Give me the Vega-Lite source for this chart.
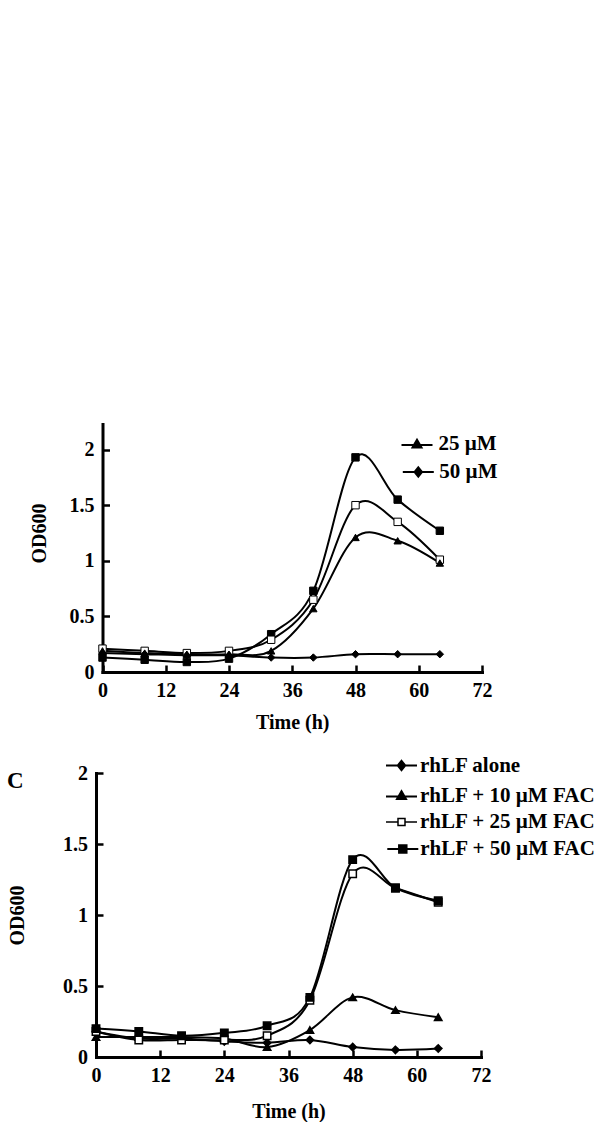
{
  "$schema": "https://vega.github.io/schema/vega-lite/v6.json",
  "autosize": {"type": "pad"},
  "padding": {"left": 7, "top": 424, "right": 0, "bottom": 0},
  "background": "white",
  "bounds": "flush",
  "spacing": 101,
  "config": {
    "view": {"stroke": null},
    "font": "Liberation Serif",
    "axis": {
      "domainColor": "black", "domainWidth": 3, "domainCap": "square",
      "tickColor": "black", "tickWidth": 2.5, "tickSize": -7,
      "labelFont": "Liberation Serif", "labelFontWeight": "bold", "labelFontSize": 20, "labelColor": "black",
      "labelPadding": 15.5, "labelFlush": false, "labelOverlap": false,
      "titleFont": "Liberation Serif", "titleFontWeight": "bold", "titleFontSize": 20, "titleColor": "black",
      "grid": false
    },
    "legend": {
      "title": null, "orient": "none", "padding": 0, "symbolSize": 100, "rowPadding": 7, "labelLimit": 400,
      "labelFont": "Liberation Serif", "labelFontWeight": "bold", "labelFontSize": 21, "labelColor": "black",
      "symbolStrokeWidth": 2, "symbolStrokeColor": "black", "symbolOpacity": 1
    }
  },
  "datasets": {
    "top": [
      {"series": "0 µM", "t": 0, "od": 0.13}, {"series": "0 µM", "t": 8, "od": 0.11}, {"series": "0 µM", "t": 16, "od": 0.09},
      {"series": "0 µM", "t": 24, "od": 0.12}, {"series": "0 µM", "t": 32, "od": 0.34}, {"series": "0 µM", "t": 40, "od": 0.73},
      {"series": "0 µM", "t": 48, "od": 1.93}, {"series": "0 µM", "t": 56, "od": 1.55}, {"series": "0 µM", "t": 64, "od": 1.27},
      {"series": "10 µM", "t": 0, "od": 0.21}, {"series": "10 µM", "t": 8, "od": 0.19}, {"series": "10 µM", "t": 16, "od": 0.17},
      {"series": "10 µM", "t": 24, "od": 0.19}, {"series": "10 µM", "t": 32, "od": 0.29}, {"series": "10 µM", "t": 40, "od": 0.65},
      {"series": "10 µM", "t": 48, "od": 1.5}, {"series": "10 µM", "t": 56, "od": 1.35}, {"series": "10 µM", "t": 64, "od": 1.01},
      {"series": "25 µM", "t": 0, "od": 0.19}, {"series": "25 µM", "t": 8, "od": 0.17}, {"series": "25 µM", "t": 16, "od": 0.16},
      {"series": "25 µM", "t": 24, "od": 0.16}, {"series": "25 µM", "t": 32, "od": 0.19}, {"series": "25 µM", "t": 40, "od": 0.57},
      {"series": "25 µM", "t": 48, "od": 1.21}, {"series": "25 µM", "t": 56, "od": 1.18}, {"series": "25 µM", "t": 64, "od": 0.98},
      {"series": "50 µM", "t": 0, "od": 0.17}, {"series": "50 µM", "t": 8, "od": 0.16}, {"series": "50 µM", "t": 16, "od": 0.15},
      {"series": "50 µM", "t": 24, "od": 0.15}, {"series": "50 µM", "t": 32, "od": 0.13}, {"series": "50 µM", "t": 40, "od": 0.13},
      {"series": "50 µM", "t": 48, "od": 0.16}, {"series": "50 µM", "t": 56, "od": 0.16}, {"series": "50 µM", "t": 64, "od": 0.16}
    ],
    "bottom": [
      {"series": "rhLF alone", "t": 0, "od": 0.18}, {"series": "rhLF alone", "t": 8, "od": 0.13}, {"series": "rhLF alone", "t": 16, "od": 0.13},
      {"series": "rhLF alone", "t": 24, "od": 0.11}, {"series": "rhLF alone", "t": 32, "od": 0.1}, {"series": "rhLF alone", "t": 40, "od": 0.12},
      {"series": "rhLF alone", "t": 48, "od": 0.07}, {"series": "rhLF alone", "t": 56, "od": 0.05}, {"series": "rhLF alone", "t": 64, "od": 0.06},
      {"series": "rhLF + 10 µM FAC", "t": 0, "od": 0.14}, {"series": "rhLF + 10 µM FAC", "t": 8, "od": 0.14}, {"series": "rhLF + 10 µM FAC", "t": 16, "od": 0.14},
      {"series": "rhLF + 10 µM FAC", "t": 24, "od": 0.13}, {"series": "rhLF + 10 µM FAC", "t": 32, "od": 0.07}, {"series": "rhLF + 10 µM FAC", "t": 40, "od": 0.19},
      {"series": "rhLF + 10 µM FAC", "t": 48, "od": 0.42}, {"series": "rhLF + 10 µM FAC", "t": 56, "od": 0.33}, {"series": "rhLF + 10 µM FAC", "t": 64, "od": 0.28},
      {"series": "rhLF + 25 µM FAC", "t": 0, "od": 0.18}, {"series": "rhLF + 25 µM FAC", "t": 8, "od": 0.12}, {"series": "rhLF + 25 µM FAC", "t": 16, "od": 0.12},
      {"series": "rhLF + 25 µM FAC", "t": 24, "od": 0.12}, {"series": "rhLF + 25 µM FAC", "t": 32, "od": 0.15}, {"series": "rhLF + 25 µM FAC", "t": 40, "od": 0.4},
      {"series": "rhLF + 25 µM FAC", "t": 48, "od": 1.29}, {"series": "rhLF + 25 µM FAC", "t": 56, "od": 1.19}, {"series": "rhLF + 25 µM FAC", "t": 64, "od": 1.09},
      {"series": "rhLF + 50 µM FAC", "t": 0, "od": 0.2}, {"series": "rhLF + 50 µM FAC", "t": 8, "od": 0.18}, {"series": "rhLF + 50 µM FAC", "t": 16, "od": 0.15},
      {"series": "rhLF + 50 µM FAC", "t": 24, "od": 0.17}, {"series": "rhLF + 50 µM FAC", "t": 32, "od": 0.22}, {"series": "rhLF + 50 µM FAC", "t": 40, "od": 0.42},
      {"series": "rhLF + 50 µM FAC", "t": 48, "od": 1.39}, {"series": "rhLF + 50 µM FAC", "t": 56, "od": 1.19}, {"series": "rhLF + 50 µM FAC", "t": 64, "od": 1.1}
    ]
  },
  "vconcat": [
    {
      "width": 386,
      "height": 248,
      "data": {"name": "top"},
      "encoding": {
        "x": {"field": "t", "type": "quantitative",
              "scale": {"domain": [0, 72], "range": [6.5, 386], "nice": false, "zero": false},
              "axis": {"values": [0, 12, 24, 36, 48, 60, 72], "title": "Time (h)", "titlePadding": 12}},
        "y": {"field": "od", "type": "quantitative",
              "scale": {"domain": [0, 2.23], "nice": false},
              "axis": {"values": [0, 0.5, 1, 1.5, 2], "labelExpr": "'' + datum.value", "title": "OD600", "titlePadding": 20, "titleY": 109, "offset": -6.5}}
      },
      "layer": [
        {
          "mark": {"type": "line", "interpolate": "cardinal", "stroke": "black", "strokeWidth": 2},
          "encoding": {"detail": {"field": "series"}}
        },
        {
          "mark": {"type": "point", "filled": true, "stroke": "black", "strokeWidth": 1},
          "encoding": {
            "shape": {"field": "series", "type": "nominal",
                      "scale": {"domain": ["50 µM", "25 µM", "10 µM", "0 µM"], "range": ["diamond", "triangle-up", "square", "square"]},
                      "legend": null},
            "fill": {"field": "series", "type": "nominal",
                     "scale": {"domain": ["50 µM", "25 µM", "10 µM", "0 µM"], "range": ["black", "black", "white", "black"]},
                     "legend": null},
            "opacity": {"field": "series", "type": "nominal",
                        "scale": {"domain": ["0 µM", "10 µM", "25 µM", "50 µM"], "range": [1, 1, 1, 1]},
                        "legend": {"values": ["25 µM"], "legendX": 310.5, "legendY": 9.5, "labelOffset": 11,
                                   "symbolType": "M-3.1,0.2H3.1M0,-0.85L0.9,0.7H-0.9Z", "symbolFillColor": "black"}},
            "size": {"field": "series", "type": "nominal",
                        "scale": {"domain": ["50 µM", "0 µM", "10 µM", "25 µM"], "range": [55, 55, 55, 55]},
                        "legend": {"values": ["50 µM"], "legendX": 311.8, "legendY": 37.5, "labelOffset": 10.5,
                                   "symbolType": "M-4.18,0H4.18M0,-1.28L1.01,0L0,1.28L-1.01,0Z", "symbolFillColor": "black"}}
          }
        }
      ]
    },
    {
      "width": 385,
      "height": 284,
      "title": {"text": "C", "anchor": "start", "frame": "group", "orient": "top", "offset": 0, "baseline": "top",
                "dx": -89, "dy": 38, "font": "Liberation Serif", "fontWeight": "bold", "fontSize": 23, "color": "black"},
      "data": {"name": "bottom"},
      "encoding": {
        "x": {"field": "t", "type": "quantitative",
              "scale": {"domain": [0, 72], "nice": false, "zero": false},
              "axis": {"values": [0, 12, 24, 36, 48, 60, 72], "title": "Time (h)", "titlePadding": 16}},
        "y": {"field": "od", "type": "quantitative",
              "scale": {"domain": [0, 2], "nice": false},
              "axis": {"values": [0, 0.5, 1, 1.5, 2], "labelExpr": "'' + datum.value", "title": "OD600", "titlePadding": 35}}
      },
      "layer": [
        {
          "mark": {"type": "line", "interpolate": "cardinal", "stroke": "black", "strokeWidth": 2},
          "encoding": {"detail": {"field": "series"}}
        },
        {
          "mark": {"type": "point", "filled": true, "stroke": "black"},
          "encoding": {
            "shape": {"field": "series", "type": "nominal",
                      "scale": {"domain": ["rhLF + 50 µM FAC", "rhLF + 25 µM FAC", "rhLF + 10 µM FAC", "rhLF alone"], "range": ["square", "square", "triangle-up", "diamond"]},
                      "legend": null},
            "fill": {"field": "series", "type": "nominal",
                     "scale": {"domain": ["rhLF + 50 µM FAC", "rhLF + 25 µM FAC", "rhLF + 10 µM FAC", "rhLF alone"], "range": ["black", "white", "black", "black"]},
                     "legend": null},
            "opacity": {"field": "series", "type": "nominal",
                        "scale": {"domain": ["rhLF alone", "rhLF + 10 µM FAC", "rhLF + 25 µM FAC", "rhLF + 50 µM FAC"], "range": [1, 1, 1, 1]},
                        "legend": {"values": ["rhLF alone"], "legendX": 295, "legendY": -18, "labelOffset": 8,
                                   "symbolType": "M-3.1,0H3.1M0,-0.95L0.75,0L0,0.95L-0.75,0Z", "symbolFillColor": "black"}},
            "strokeDash": {"field": "series", "type": "nominal",
                        "scale": {"domain": ["rhLF + 10 µM FAC", "rhLF alone", "rhLF + 25 µM FAC", "rhLF + 50 µM FAC"], "range": [[1, 0], [1, 0], [1, 0], [1, 0]]},
                        "legend": {"values": ["rhLF + 10 µM FAC"], "legendX": 295, "legendY": 12, "labelOffset": 8,
                                   "symbolType": "M-3.1,0.2H3.1M0,-0.85L0.9,0.7H-0.9Z", "symbolFillColor": "black"}},
            "strokeWidth": {"field": "series", "type": "nominal",
                        "scale": {"domain": ["rhLF + 25 µM FAC", "rhLF alone", "rhLF + 10 µM FAC", "rhLF + 50 µM FAC"], "range": [1.5, 1.5, 1.5, 1.5]},
                        "legend": {"values": ["rhLF + 25 µM FAC"], "legendX": 295, "legendY": 38.5, "labelOffset": 8,
                                   "symbolType": "M-3.1,0H-0.7M0.7,0H3.1M-0.7,-0.7H0.7V0.7H-0.7Z", "symbolFillColor": "white"}},
            "size": {"field": "series", "type": "nominal",
                        "scale": {"domain": ["rhLF + 50 µM FAC", "rhLF alone", "rhLF + 10 µM FAC", "rhLF + 25 µM FAC"], "range": [55, 55, 55, 55]},
                        "legend": {"values": ["rhLF + 50 µM FAC"], "legendX": 296.3, "legendY": 65.5, "labelOffset": 7,
                                   "symbolType": "M-4.18,0H4.18M-1.01,-1.01H1.01V1.01H-1.01Z", "symbolFillColor": "black"}}
          }
        }
      ]
    }
  ],
  "resolve": {"scale": {"x": "independent", "y": "independent", "shape": "independent", "fill": "independent", "opacity": "independent", "size": "independent", "strokeDash": "independent", "strokeWidth": "independent"}}
}
